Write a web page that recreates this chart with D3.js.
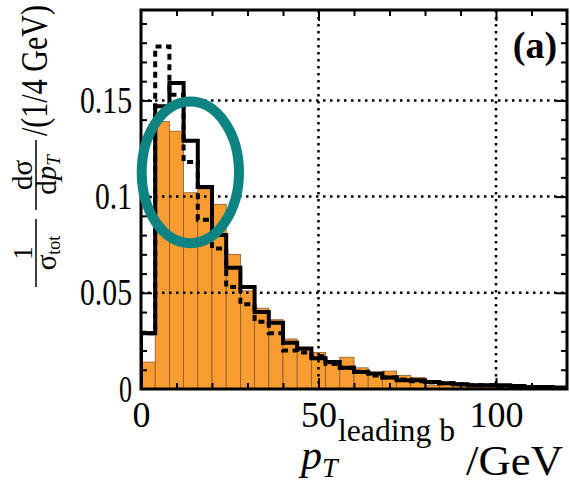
<!DOCTYPE html>
<html>
<head>
<meta charset="utf-8">
<script src="https://cdn.jsdelivr.net/npm/d3@7/dist/d3.min.js"></script>
<style>
  body { margin: 0; background: #fff; }
  svg { display: block; }
</style>
</head>
<body>
<div id="chart"></div>
<script>
// bins of 4 GeV, lower edges
const binLow = [0, 4, 8, 12, 16, 20, 24, 28, 32, 36, 40, 44, 48, 52, 56,
                60, 64, 68, 72, 76, 80, 84, 88, 92, 96, 100, 104, 108, 112, 116];
const binWidth = 4;

// filled orange histogram
const orangeHist = [0.014, 0.139, 0.134, 0.102, 0.104, 0.096, 0.070, 0.051, 0.042, 0.036,
                    0.026, 0.021, 0.019, 0.013, 0.0165, 0.011, 0.008, 0.0093, 0.007, 0.006,
                    0.002, 0.003, 0.003, 0.0025, 0.002, 0.001, 0.0005, 0, 0, 0];
// solid black line
const solidHist = [0.029, 0.147, 0.159, 0.129, 0.105, 0.080, 0.063, 0.053, 0.040, 0.0345,
                   0.024, 0.021, 0.016, 0.014, 0.011, 0.0088, 0.008, 0.006, 0.0046, 0.0046,
                   0.0036, 0.003, 0.0025, 0.002, 0.002, 0.002, 0.0015, 0.001, 0.001, 0.0008];
// dotted black line
const dottedHist = [0.029, 0.178, 0.153, 0.118, 0.088, 0.073, 0.053, 0.044, 0.035, 0.029,
                    0.020, 0.019, 0.017, 0.013, 0.011, 0.009, 0.007, 0.006, 0.005, 0.004,
                    0.0035, 0.003, 0.0025, 0.002, 0.002, 0.0015, 0.001, 0.001, 0.0008, 0.0005];

const xTickVals = [0, 50, 100];
const xMinorTicks = [10, 20, 30, 40, 60, 70, 80, 90, 110];
const yTickVals = [0, 0.05, 0.1, 0.15];
const yTickLabels = ["0", "0.05", "0.1", "0.15"];
const yMinorTicks = [0.01, 0.02, 0.03, 0.04, 0.06, 0.07, 0.08, 0.09, 0.11, 0.12, 0.13, 0.14, 0.16, 0.17, 0.18, 0.19];

// highlight ellipse (data units)
const ellipseCenter = [13.9, 0.1126];
const ellipseRadius = [13.7, 0.0368];

const W = 570, H = 485;
const pLeft = 141, pRight = 567, pTop = 10, pBottom = 389;
const serif = "'Liberation Serif', 'Times New Roman', serif";

const x = d3.scaleLinear().domain([0, 120]).range([pLeft, pRight]);
const y = d3.scaleLinear().domain([0, 0.197]).range([pBottom, pTop]);

const svg = d3.select('#chart')
  .append('svg')
  .attr('width', W)
  .attr('height', H);

svg.append('clipPath').attr('id', 'plotclip')
  .append('rect')
  .attr('x', pLeft).attr('y', pTop)
  .attr('width', pRight - pLeft).attr('height', pBottom - pTop);

const plot = svg.append('g').attr('clip-path', 'url(#plotclip)');

// orange bars
plot.selectAll('rect.bar')
  .data(binLow.map((b, i) => ({ x0: b, v: orangeHist[i] })))
  .enter()
  .append('rect')
  .attr('class', 'bar')
  .attr('x', d => x(d.x0))
  .attr('width', d => x(d.x0 + binWidth) - x(d.x0))
  .attr('y', d => y(d.v))
  .attr('height', d => y(0) - y(d.v))
  .attr('fill', '#f99d33')
  .attr('stroke', '#8a5a2a')
  .attr('stroke-width', 0.8);

function stepPoints(vals) {
  const pts = [[0, 0]];
  vals.forEach((v, i) => pts.push([binLow[i], v]));
  pts.push([binLow[binLow.length - 1] + binWidth, vals[vals.length - 1]]);
  return pts;
}

const stepLine = d3.line()
  .x(d => x(d[0]))
  .y(d => y(d[1]))
  .curve(d3.curveStepAfter);

plot.append('path')
  .attr('d', stepLine(stepPoints(dottedHist)))
  .attr('fill', 'none')
  .attr('stroke', '#000')
  .attr('stroke-width', 4)
  .attr('stroke-dasharray', '6,4.5');

plot.append('path')
  .attr('d', stepLine(stepPoints(solidHist)))
  .attr('fill', 'none')
  .attr('stroke', '#000')
  .attr('stroke-width', 4);

// dotted grid on top
plot.selectAll('line.vgrid')
  .data([50, 100])
  .enter()
  .append('line')
  .attr('x1', d => x(d)).attr('x2', d => x(d))
  .attr('y1', pTop).attr('y2', pBottom)
  .attr('stroke', '#000').attr('stroke-width', 2.5)
  .attr('stroke-dasharray', '2.5,4.5');

plot.selectAll('line.hgrid')
  .data([0.05, 0.1, 0.15])
  .enter()
  .append('line')
  .attr('x1', pLeft).attr('x2', pRight)
  .attr('y1', d => y(d)).attr('y2', d => y(d))
  .attr('stroke', '#000').attr('stroke-width', 2.5)
  .attr('stroke-dasharray', '2.5,4.5');

// ticks, inward on all sides
function tickAxis(axis, transform) {
  const g = svg.append('g').attr('transform', transform).call(axis);
  g.select('.domain').remove();
  g.selectAll('line').attr('stroke', '#000').attr('stroke-width', 2);
  return g;
}
tickAxis(d3.axisBottom(x).tickValues(xMinorTicks).tickSize(-6).tickFormat(''), `translate(0,${pBottom})`);
tickAxis(d3.axisBottom(x).tickValues([50, 100]).tickSize(-11).tickFormat(''), `translate(0,${pBottom})`);
tickAxis(d3.axisTop(x).tickValues(xMinorTicks).tickSize(-6).tickFormat(''), `translate(0,${pTop})`);
tickAxis(d3.axisTop(x).tickValues([50, 100]).tickSize(-11).tickFormat(''), `translate(0,${pTop})`);
tickAxis(d3.axisLeft(y).tickValues(yMinorTicks).tickSize(-6).tickFormat(''), `translate(${pLeft},0)`);
tickAxis(d3.axisLeft(y).tickValues([0.05, 0.1, 0.15]).tickSize(-11).tickFormat(''), `translate(${pLeft},0)`);
tickAxis(d3.axisRight(y).tickValues(yMinorTicks).tickSize(-6).tickFormat(''), `translate(${pRight},0)`);
tickAxis(d3.axisRight(y).tickValues([0.05, 0.1, 0.15]).tickSize(-11).tickFormat(''), `translate(${pRight},0)`);

// tick labels
const xLab = svg.append('g')
  .attr('transform', `translate(0,${pBottom})`)
  .call(d3.axisBottom(x).tickValues(xTickVals).tickSize(0).tickPadding(12));
xLab.select('.domain').remove();
xLab.selectAll('text')
  .attr('font-family', serif).attr('font-size', 36).attr('fill', '#000');

const yLab = svg.append('g')
  .attr('transform', `translate(${pLeft},0)`)
  .call(d3.axisLeft(y).tickValues(yTickVals).tickSize(0).tickPadding(9)
    .tickFormat((d, i) => yTickLabels[i]));
yLab.select('.domain').remove();
yLab.selectAll('text')
  .attr('font-family', serif).attr('font-size', 38).attr('fill', '#000')
  .attr('lengthAdjust', 'spacingAndGlyphs')
  .attr('textLength', (d, i) => [13, 52, 37, 52][i]);

// frame
svg.append('rect')
  .attr('x', pLeft).attr('y', pTop)
  .attr('width', pRight - pLeft).attr('height', pBottom - pTop)
  .attr('fill', 'none').attr('stroke', '#000').attr('stroke-width', 3);

// ellipse annotation
svg.append('ellipse')
  .attr('cx', x(ellipseCenter[0]))
  .attr('cy', y(ellipseCenter[1]))
  .attr('rx', x(ellipseRadius[0]) - x(0))
  .attr('ry', y(0) - y(ellipseRadius[1]))
  .attr('fill', 'none')
  .attr('stroke', '#0e8482')
  .attr('stroke-width', 10);

// panel label
svg.append('text')
  .attr('x', 535).attr('y', 58)
  .attr('text-anchor', 'middle')
  .attr('font-family', serif).attr('font-weight', 'bold').attr('font-size', 38)
  .text('(a)');

// y title (rotated)
const yt = svg.append('g').attr('transform', 'translate(36,400) rotate(-90)')
  .attr('font-family', serif).attr('fill', '#000');
yt.append('text').attr('x', 147).attr('y', -4).attr('text-anchor', 'middle')
  .attr('font-size', 27).text('1');
const den1 = yt.append('text').attr('x', 147).attr('y', 20).attr('text-anchor', 'middle');
den1.append('tspan').attr('font-size', 29).text('σ');
den1.append('tspan').attr('font-size', 18).attr('dy', 4).text('tot');
yt.append('line').attr('x1', 113).attr('x2', 181).attr('y1', 0).attr('y2', 0)
  .attr('stroke', '#000').attr('stroke-width', 1.5);
yt.append('text').attr('x', 225).attr('y', -4).attr('text-anchor', 'middle')
  .attr('font-size', 29).text('dσ');
const den2 = yt.append('text').attr('x', 225).attr('y', 20).attr('text-anchor', 'middle');
den2.append('tspan').attr('font-size', 29).text('d');
den2.append('tspan').attr('font-size', 29).attr('font-style', 'italic').text('p');
den2.append('tspan').attr('font-size', 19).attr('font-style', 'italic').attr('dy', 4).text('T');
yt.append('line').attr('x1', 190).attr('x2', 260).attr('y1', 0).attr('y2', 0)
  .attr('stroke', '#000').attr('stroke-width', 1.5);
yt.append('text').attr('x', 264).attr('y', 11)
  .attr('font-size', 37)
  .attr('lengthAdjust', 'spacingAndGlyphs').attr('textLength', 131)
  .text('/(1/4 GeV)');

// x title
const xt = svg.append('g').attr('font-family', serif).attr('fill', '#000');
xt.append('text').attr('x', 301).attr('y', 469).attr('font-size', 42)
  .attr('font-style', 'italic').text('p');
xt.append('text').attr('x', 322).attr('y', 477).attr('font-size', 28)
  .attr('font-style', 'italic').text('T');
xt.append('text').attr('x', 338).attr('y', 441).attr('font-size', 32)
  .attr('lengthAdjust', 'spacingAndGlyphs').attr('textLength', 117)
  .text('leading b');
xt.append('text').attr('x', 466).attr('y', 475).attr('font-size', 43)
  .attr('lengthAdjust', 'spacingAndGlyphs').attr('textLength', 97)
  .text('/GeV');
</script>
</body>
</html>
